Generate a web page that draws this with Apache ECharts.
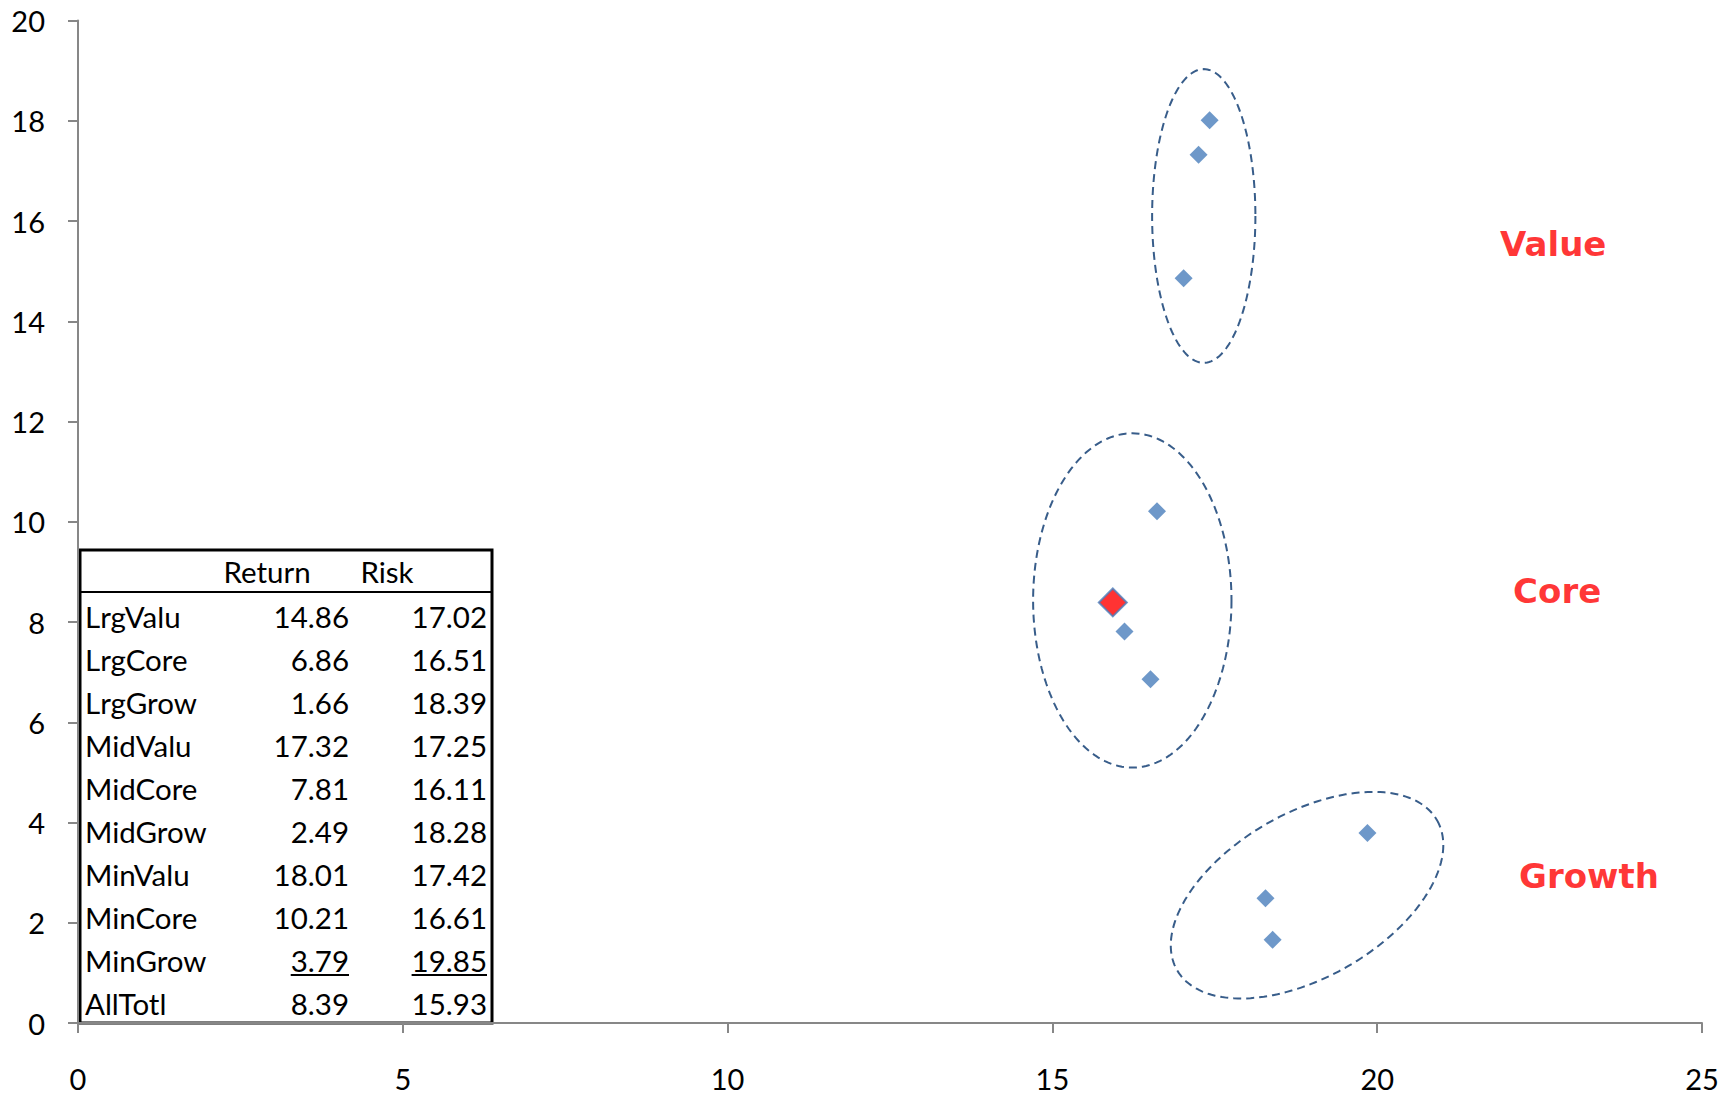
<!DOCTYPE html>
<html><head><meta charset="utf-8">
<script src="https://cdn.jsdelivr.net/npm/echarts@6/dist/echarts.min.js"></script>
<style>html,body{margin:0;padding:0;background:#fff}#c{width:1734px;height:1095px}</style>
</head><body><div id="c"></div>
<script>
// ---- data ----
const names   = ['LrgValu','LrgCore','LrgGrow','MidValu','MidCore','MidGrow','MinValu','MinCore','MinGrow','AllTotl'];
const returns = [14.86, 6.86, 1.66, 17.32, 7.81, 2.49, 18.01, 10.21, 3.79, 8.39];
const risks   = [17.02, 16.51, 18.39, 17.25, 16.11, 18.28, 17.42, 16.61, 19.85, 15.93];
const underlinedRow = 8;           // MinGrow row is underlined in the table
const highlightName = 'AllTotl';
const tableHeader = ['Return', 'Risk'];
const xTickMin = 0, xTickMax = 25, xTickStep = 5;
const yTickMin = 0, yTickMax = 20, yTickStep = 2;
// group annotations: label, [x, y] in data units
const groupNames  = ['Value', 'Core', 'Growth'];
const groupLabelX = [22.71, 22.77, 23.26];
const groupLabelY = [15.54, 8.62, 2.93];
// ellipses: centre x, centre y, half-width (x units), half-height (y units), rotation deg
const ellCx  = [17.33, 16.23, 18.92];
const ellCy  = [16.10, 8.43, 2.55];
const ellRx  = [0.795, 1.527, 2.31];
const ellRy  = [2.93, 3.335, 1.636];
const ellRot = [0, 0, 30];

// ---- build ----
const FONT = 'Lato';
const blueData = [], redData = [];
names.forEach((n, i) => {
  if (n === highlightName) redData.push([risks[i], returns[i], n]);
  else blueData.push([risks[i], returns[i], n]);
});
const ellData = ellCx.map((c, i) => [c, ellCy[i], ellRx[i], ellRy[i], ellRot[i]]);
const labelData = groupNames.map((g, i) => [groupLabelX[i], groupLabelY[i], g]);

const cv = document.createElement('canvas').getContext('2d');
function tw(t, font) { cv.font = font; return cv.measureText(t).width; }

// table graphic
const T = { left: 80, right: 492, top: 550, bottom: 1023, head: 592, rowH: 43, firstMid: 616, headMid: 571,
            nameX: 85, retX: 349, riskX: 487, fs: 29.5 };
const tFont = T.fs + 'px ' + FONT;
const tableEls = [
  { type: 'rect', shape: { x: T.left, y: T.top, width: T.right - T.left, height: T.bottom - T.top },
    style: { fill: '#fff', stroke: '#000', lineWidth: 3 } },
  { type: 'line', shape: { x1: T.left, y1: T.head, x2: T.right, y2: T.head }, style: { stroke: '#000', lineWidth: 2 } },
  { type: 'text', style: { text: tableHeader[0], x: 267, y: T.headMid, font: tFont, fill: '#000', textAlign: 'center', textVerticalAlign: 'middle' } },
  { type: 'text', style: { text: tableHeader[1], x: 387, y: T.headMid, font: tFont, fill: '#000', textAlign: 'center', textVerticalAlign: 'middle' } }
];
names.forEach((n, i) => {
  const y = T.firstMid + T.rowH * i;
  const r = returns[i].toFixed(2), k = risks[i].toFixed(2);
  tableEls.push({ type: 'text', style: { text: n, x: T.nameX, y, font: tFont, fill: '#000', textAlign: 'left', textVerticalAlign: 'middle' } });
  tableEls.push({ type: 'text', style: { text: r, x: T.retX, y, font: tFont, fill: '#000', textAlign: 'right', textVerticalAlign: 'middle' } });
  tableEls.push({ type: 'text', style: { text: k, x: T.riskX, y, font: tFont, fill: '#000', textAlign: 'right', textVerticalAlign: 'middle' } });
  if (i === underlinedRow) {
    const uy = y + 15;
    const w1 = tw(r, tFont), w2 = tw(k, tFont);
    tableEls.push({ type: 'line', shape: { x1: T.retX - w1, y1: uy, x2: T.retX, y2: uy }, style: { stroke: '#000', lineWidth: 2 } });
    tableEls.push({ type: 'line', shape: { x1: T.riskX - w2, y1: uy, x2: T.riskX, y2: uy }, style: { stroke: '#000', lineWidth: 2 } });
  }
});

const chart = echarts.init(document.getElementById('c'), null, { renderer: 'svg' });
chart.setOption({
  animation: false,
  backgroundColor: '#fff',
  grid: { left: 78, right: 32, top: 20.5, bottom: 72, containLabel: false },
  xAxis: {
    type: 'value', min: xTickMin, max: xTickMax, interval: xTickStep,
    splitLine: { show: false },
    axisLine: { lineStyle: { color: '#878787', width: 2 } },
    axisTick: { show: true, length: 10, lineStyle: { color: '#878787', width: 2 } },
    axisLabel: { fontFamily: FONT, fontSize: 29, color: '#000', margin: 41 }
  },
  yAxis: {
    type: 'value', min: yTickMin, max: yTickMax, interval: yTickStep,
    splitLine: { show: false },
    axisLine: { show: true, lineStyle: { color: '#878787', width: 2 } },
    axisTick: { show: true, length: 10, lineStyle: { color: '#878787', width: 2 } },
    axisLabel: { fontFamily: FONT, fontSize: 29, color: '#000', margin: 33 }
  },
  graphic: { elements: [{ type: 'group', z: 100, children: tableEls }] },
  series: [
    {
      type: 'custom', silent: true, z: 3,
      data: ellData,
      renderItem(params, api) {
        const c = api.coord([api.value(0), api.value(1)]);
        const s = api.size([api.value(2), api.value(3)]);
        const rot = api.value(4) * Math.PI / 180;
        const pts = [];
        for (let i = 0; i <= 180; i++) {
          const t = i / 180 * 2 * Math.PI;
          const ex = s[0] * Math.cos(t), ey = s[1] * Math.sin(t);
          pts.push([c[0] + ex * Math.cos(rot) + ey * Math.sin(rot), c[1] - ex * Math.sin(rot) + ey * Math.cos(rot)]);
        }
        return { type: 'polyline', shape: { points: pts },
                 style: { fill: 'none', stroke: '#385D8A', lineWidth: 2, lineDash: [8, 5] } };
      }
    },
    {
      type: 'scatter', z: 5, data: blueData, symbol: 'diamond', symbolSize: 18,
      itemStyle: { color: '#4A7EBB' }
    },
    {
      type: 'scatter', z: 6, data: redData, symbol: 'diamond', symbolSize: 28,
      itemStyle: { color: '#FF0000', borderColor: '#4A7EBB', borderWidth: 2 }
    },
    {
      type: 'scatter', z: 6, data: labelData, symbolSize: 0, silent: true,
      label: { show: true, position: 'inside', formatter: p => p.data[2],
               fontFamily: 'DejaVu Sans', fontWeight: 'bold', fontSize: 34, color: '#FF0000' }
    }
  ]
});
</script>
</body></html>
